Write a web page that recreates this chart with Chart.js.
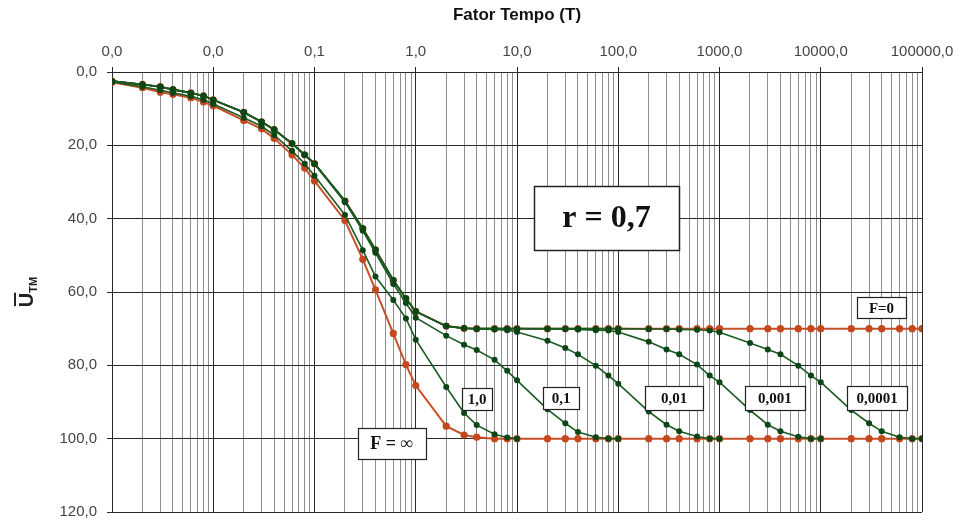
<!DOCTYPE html>
<html>
<head>
<meta charset="utf-8">
<script src="https://cdn.jsdelivr.net/npm/chart.js@4.4.1/dist/chart.umd.min.js"></script>
<style>
body { margin: 0; background: #fff; }
#wrap { width: 960px; height: 531px; }
</style>
</head>
<body>
<div id="wrap"><canvas id="myChart"></canvas></div>
<script>
const tValues = [0.001, 0.002, 0.003, 0.004, 0.006, 0.008,
    0.01, 0.02, 0.03, 0.04, 0.06, 0.08,
    0.1, 0.2, 0.3, 0.4, 0.6, 0.8,
    1, 2, 3, 4, 6, 8,
    10, 20, 30, 40, 60, 80,
    100, 200, 300, 400, 600, 800,
    1000, 2000, 3000, 4000, 6000, 8000,
    10000, 20000, 30000, 40000, 60000, 80000,
    100000]

// U_TM (%), one value per tValues entry (series stop where they reach 100)
const uFInf = [2.8, 4.3, 5.5, 6.1, 7.0, 8.2,
    9.2, 13.2, 15.5, 18.1, 22.6, 26.2,
    29.7, 40.5, 51.1, 59.4, 71.3, 79.8,
    85.5, 96.6, 99.0, 99.6, 100, 100,
    100, 100, 100, 100, 100, 100,
    100, 100, 100, 100, 100, 100,
    100, 100, 100, 100, 100, 100,
    100, 100, 100, 100, 100, 100,
    100]
const uF0 = [2.5, 3.4, 4.0, 4.8, 5.7, 6.5,
    7.6, 11.0, 13.6, 15.7, 19.5, 22.6,
    25.0, 35.2, 42.7, 48.5, 56.8, 61.8,
    65.3, 69.3, 69.9, 70, 70, 70,
    70, 70, 70, 70, 70, 70,
    70, 70, 70, 70, 70, 70,
    70, 70, 70, 70, 70, 70,
    70, 70, 70, 70, 70, 70,
    70]
const uF1 = [2.7, 4.0, 5.0, 5.7, 6.6, 7.6,
    8.7, 12.5, 14.8, 17.2, 21.5, 25.0,
    28.3, 39.0, 48.6, 55.8, 62.2, 67.2,
    73.0, 85.9, 93.0, 96.3, 98.8, 99.7,
    100]
const uF01 = [2.5, 3.4, 4.0, 4.8, 5.7, 6.5,
    7.6, 11.0, 13.6, 15.7, 19.5, 22.6,
    25.0, 35.5, 43.3, 49.3, 57.8, 63.0,
    67.0, 71.9, 74.4, 75.8, 78.5, 81.5,
    84.1, 92.0, 95.8, 98.2, 99.6, 100,
    100]
const uF001 = [2.5, 3.4, 4.0, 4.8, 5.7, 6.5,
    7.6, 11.0, 13.6, 15.7, 19.5, 22.6,
    25.0, 35.2, 42.7, 48.5, 56.8, 61.8,
    65.3, 69.3, 69.9, 70.1, 70.2, 70.4,
    70.9, 73.3, 75.3, 77.0, 80.1, 82.8,
    85.0, 92.6, 96.2, 98.0, 99.4, 100,
    100]
const uF0001 = [2.5, 3.4, 4.0, 4.8, 5.7, 6.5,
    7.6, 11.0, 13.6, 15.7, 19.5, 22.6,
    25.0, 35.2, 42.7, 48.5, 56.8, 61.8,
    65.3, 69.3, 69.9, 70, 70, 70,
    70, 70.1, 70.1, 70.2, 70.4, 70.5,
    70.9, 73.6, 75.7, 77.0, 79.8, 82.8,
    84.6, 92.2, 96.2, 98.0, 99.5, 100,
    100]
const uF00001 = [2.5, 3.4, 4.0, 4.8, 5.7, 6.5,
    7.6, 11.0, 13.6, 15.7, 19.5, 22.6,
    25.0, 35.2, 42.7, 48.5, 56.8, 61.8,
    65.3, 69.3, 69.9, 70, 70, 70,
    70, 70, 70, 70, 70, 70,
    70, 70.1, 70.1, 70.2, 70.3, 70.5,
    71.0, 73.9, 75.7, 77.0, 80.1, 82.8,
    84.6, 92.2, 95.8, 98.0, 99.6, 100,
    100]

const xDecades = [0.001, 0.01, 0.1, 1, 10, 100, 1000, 10000, 100000]
const minorSteps = [2, 3, 4, 5, 6, 7, 8, 9]
const yTicks = [0, 20, 40, 60, 80, 100, 120]

const GREEN = "#0b4616"
const GREEN_LINE = "#1b5a22"
const ORANGE = "#c4471d"
const ORANGE_LINE = "#c65028"

const toPoints = (arr) => arr.map((u, i) => ({ x: tValues[i], y: u }))
const fmt = (v) => v.toFixed(1).replace(".", ",")

const gridTicks = []
xDecades.forEach((d, i) => {
    gridTicks.push({ value: d, major: true })
    if (i < xDecades.length - 1) {
        minorSteps.forEach(m => gridTicks.push({ value: Number((d * m).toPrecision(6)), major: false }))
    }
})

const greenSet = (data) => ({
    data: toPoints(data),
    showLine: true,
    borderColor: GREEN_LINE,
    borderWidth: 1.6,
    backgroundColor: GREEN,
    pointBackgroundColor: GREEN,
    pointBorderColor: GREEN,
    pointRadius: 3,
    pointBorderWidth: 0
})
const orangeSet = (data) => ({
    data: toPoints(data),
    showLine: true,
    borderColor: ORANGE_LINE,
    borderWidth: 2,
    backgroundColor: ORANGE,
    pointBackgroundColor: ORANGE,
    pointBorderColor: ORANGE,
    pointRadius: 3.6,
    pointBorderWidth: 0
})

const boxLabels = [
    { text: "F=0", t: 39800, u: 64.3, w: 49, h: 21, size: 15 },
    { text: "0,0001", t: 36000, u: 89.0, w: 60, h: 24, size: 15 },
    { text: "0,001", t: 3516, u: 89.0, w: 60, h: 24, size: 15 },
    { text: "0,01", t: 356, u: 89.0, w: 58, h: 24, size: 15 },
    { text: "0,1", t: 27.2, u: 89.0, w: 36, h: 22, size: 15 },
    { text: "1,0", t: 4.03, u: 89.3, w: 30, h: 22, size: 15 },
    { text: "F = \u221E", t: 0.58, u: 101.2, w: 68, h: 31, size: 18 },
    { text: "r = 0,7", t: 76.6, u: 39.8, w: 145, h: 64, size: 32 }
]

const labelPlugin = {
    id: "labelPlugin",
    afterDatasetsDraw(chart) {
        const c = chart.ctx
        const xs = chart.scales.x
        const ys = chart.scales.y
        c.save()
        boxLabels.forEach(l => {
            const cx = xs.getPixelForValue(l.t)
            const cy = ys.getPixelForValue(l.u)
            const x0 = Math.round(cx - l.w / 2) + 0.5
            const y0 = Math.round(cy - l.h / 2) + 0.5
            c.fillStyle = "#fff"
            c.fillRect(x0, y0, l.w, l.h)
            c.strokeStyle = "#222"
            c.lineWidth = l.size > 20 ? 1.5 : 1.2
            c.strokeRect(x0, y0, l.w, l.h)
            c.fillStyle = "#111"
            c.font = "bold " + l.size + "px 'Liberation Serif', 'Times New Roman', serif"
            c.textAlign = "center"
            c.textBaseline = "middle"
            c.fillText(l.text, cx, cy + 1)
        })
        c.restore()
    },
    afterDraw(chart) {
        // y axis title: U with overbar and subscript TM
        const c = chart.ctx
        const cy = (chart.chartArea.top + chart.chartArea.bottom) / 2
        c.save()
        c.translate(25, cy)
        c.rotate(-Math.PI / 2)
        c.fillStyle = "#222"
        c.textBaseline = "alphabetic"
        c.textAlign = "left"
        c.font = "bold 20px 'Liberation Sans', Arial, sans-serif"
        const uw = c.measureText("U").width
        c.font = "bold 11px 'Liberation Sans', Arial, sans-serif"
        const sw = c.measureText("TM").width
        const x0 = -(uw + sw) / 2
        c.font = "bold 20px 'Liberation Sans', Arial, sans-serif"
        c.fillText("U", x0, 8)
        c.font = "bold 11px 'Liberation Sans', Arial, sans-serif"
        c.fillText("TM", x0 + uw, 12)
        c.fillRect(x0 + 1, -11, uw - 1, 2)
        c.restore()
    }
}

const ctx = document.querySelector("#myChart").getContext("2d")
const myChart = new Chart(ctx, {
    type: "scatter",
    data: {
        datasets: [
            greenSet(uF1),
            greenSet(uF01),
            greenSet(uF001),
            greenSet(uF0001),
            greenSet(uF00001),
            orangeSet(uFInf),
            orangeSet(uF0)
        ]
    },
    options: {
        responsive: true,
        maintainAspectRatio: false,
        animation: false,
        layout: { padding: { left: 0, top: 0, right: 38, bottom: 10 } },
        plugins: {
            legend: { display: false },
            tooltip: { enabled: false }
        },
        scales: {
            x: {
                type: "logarithmic",
                position: "top",
                min: 0.001,
                max: 100000,
                afterBuildTicks: (scale) => { scale.ticks = gridTicks.map(t => ({ value: t.value, major: t.major })) },
                afterFit: (scale) => { scale.height = 72 },
                ticks: {
                    autoSkip: false,
                    maxRotation: 0,
                    padding: 6,
                    color: "#444",
                    font: { family: "'Liberation Sans', Arial, sans-serif", size: 15 },
                    callback: (value, index, ticks) => ticks[index].major ? fmt(value) : ""
                },
                grid: {
                    color: (c) => c.tick && c.tick.major ? "#2a2a2a" : "#8e8e8e",
                    tickColor: (c) => c.tick && c.tick.major ? "#2a2a2a" : "rgba(0,0,0,0)",
                    tickLength: 5,
                    lineWidth: 1
                },
                border: { display: true, color: "#2a2a2a" },
                title: {
                    display: true,
                    text: "Fator Tempo (T)",
                    color: "#111",
                    font: { family: "'Liberation Sans', Arial, sans-serif", size: 17, weight: "bold" },
                    padding: { top: 5, bottom: 0 }
                }
            },
            y: {
                type: "linear",
                reverse: true,
                min: 0,
                max: 120,
                afterBuildTicks: (scale) => { scale.ticks = yTicks.map(v => ({ value: v })) },
                afterFit: (scale) => { scale.width = 112 },
                ticks: {
                    padding: 10,
                    color: "#444",
                    font: { family: "'Liberation Sans', Arial, sans-serif", size: 15 },
                    callback: (value) => fmt(value)
                },
                grid: {
                    color: "#2a2a2a",
                    tickColor: "#2a2a2a",
                    tickLength: 5,
                    lineWidth: 1
                },
                border: { display: true, color: "#2a2a2a" }
            }
        }
    },
    plugins: [labelPlugin]
})
</script>
</body>
</html>
